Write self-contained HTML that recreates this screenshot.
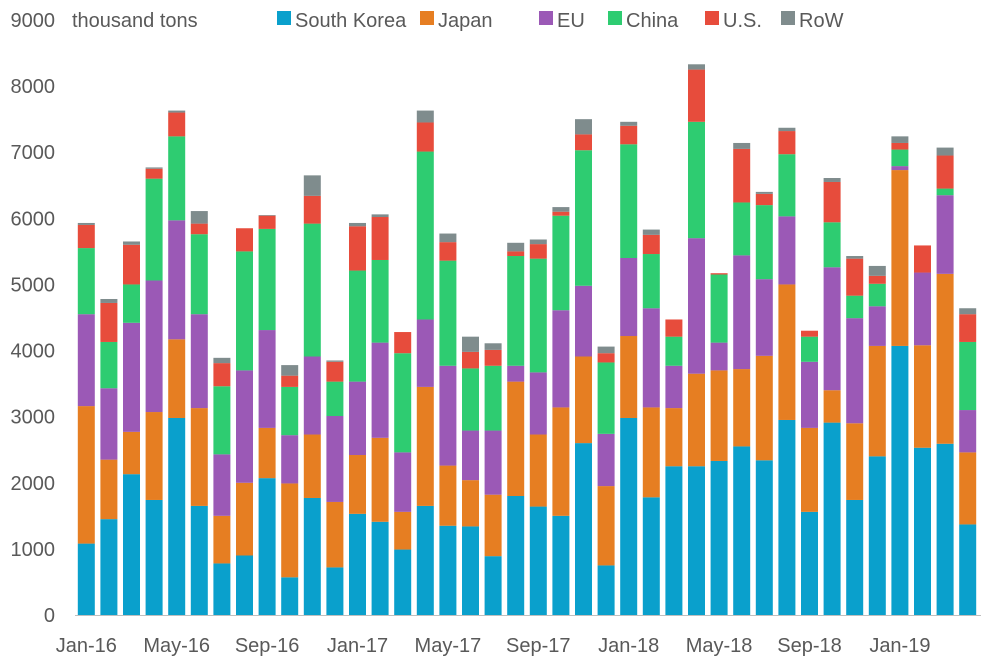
<!DOCTYPE html>
<html><head><meta charset="utf-8"><style>
html,body{margin:0;padding:0;background:#fff;}
svg{display:block;font-family:"Liberation Sans",sans-serif;}
</style></head><body>
<svg id="chart" width="991" height="661"></svg>
<script>
const categories=[];
const monthNames=["Jan","Feb","Mar","Apr","May","Jun","Jul","Aug","Sep","Oct","Nov","Dec"];
for(let i=0;i<40;i++){categories.push(monthNames[i%12]+"-"+(16+Math.floor(i/12)));}
const southKorea=[1080,1450,2130,1740,2980,1650,780,900,2070,570,1770,720,1530,1410,990,1650,1350,1340,890,1800,1640,1500,2600,750,2980,1780,2250,2250,2330,2550,2340,2950,1560,2910,1740,2400,4070,2530,2590,1370];
const japan=[2080,900,640,1330,1190,1480,720,1100,760,1420,960,990,890,1270,570,1800,910,700,930,1730,1090,1640,1310,1200,1240,1360,880,1400,1370,1170,1580,2050,1270,490,1160,1670,2660,1550,2570,1090];
const eu=[1390,1080,1650,1990,1800,1420,930,1700,1480,730,1180,1300,1110,1440,900,1020,1510,750,970,240,940,1470,1070,790,1180,1500,640,2050,420,1720,1160,1030,1000,1860,1590,600,60,1100,1190,640];
const china=[1000,700,580,1540,1270,1210,1030,1800,1530,730,2010,520,1680,1250,1500,2540,1590,940,980,1660,1720,1430,2050,1080,1720,820,440,1760,1030,800,1120,940,380,680,340,340,250,0,100,1030];
const us=[350,590,600,150,360,160,350,350,200,170,420,300,670,650,320,440,280,250,240,70,220,60,240,140,280,290,260,790,20,810,170,350,90,610,560,120,100,410,500,420];
const row=[30,60,50,20,30,190,80,0,10,160,310,20,50,40,0,180,130,230,100,130,70,70,230,100,60,80,0,80,0,90,30,50,0,60,40,150,100,0,120,90];
const yTicks=[0,1000,2000,3000,4000,5000,6000,7000,8000,9000];
const seriesNames=["South Korea","Japan","EU","China","U.S.","RoW"];
const seriesData=[southKorea,japan,eu,china,us,row];
const colors=["#0aa0cc","#e67e22","#9b59b6","#2ecc71","#e74c3c","#7f8c8d"];

const svg=document.getElementById('chart');
const NS="http://www.w3.org/2000/svg";
const x0=75,band=22.6,barW=17,yBase=615,yTop=20,yMax=9000;
const y=v=>yBase-v/yMax*(yBase-yTop);
const xc=i=>x0+band*(i+0.5);
function mk(tag,attrs){const e=document.createElementNS(NS,tag);for(const k in attrs)e.setAttribute(k,attrs[k]);svg.appendChild(e);return e;}

yTicks.forEach(t=>{
  const tx=mk('text',{x:55,y:y(t)+7,'text-anchor':'end','font-size':20,fill:'#595959'});
  tx.textContent=t;
  
  
});
categories.forEach((c,i)=>{
  const cum=[0];
  seriesData.forEach((s,k)=>{
    const b=cum[0],tp=b+s[i];
    if(s[i]>0){
      const r=mk('rect',{x:xc(i)-barW/2,y:y(tp),width:barW,height:y(b)-y(tp),fill:colors[k]});
      
      
    }
    cum[0]=tp;
  });
  if(i%4===0){
    const tx=mk('text',{x:xc(i),y:652,'text-anchor':'middle','font-size':20,fill:'#595959'});
    tx.textContent=c;
    
    
  }
});
const ax=mk('line',{x1:x0,x2:981,y1:yBase+0.5,y2:yBase+0.5,stroke:'#bfbfbf','stroke-width':1});


const unit=mk('text',{x:72,y:27,'font-size':20,fill:'#595959'});
unit.textContent='thousand tons';


const legX=[277,420,539,608,705,781];
seriesNames.forEach((n,k)=>{
  const r=mk('rect',{x:legX[k],y:11,width:14,height:14,fill:colors[k]});
  
  
  const t=mk('text',{x:legX[k]+18,y:27,'font-size':20,fill:'#595959'});
  t.textContent=n;
  
  
});
</script>
</body></html>
